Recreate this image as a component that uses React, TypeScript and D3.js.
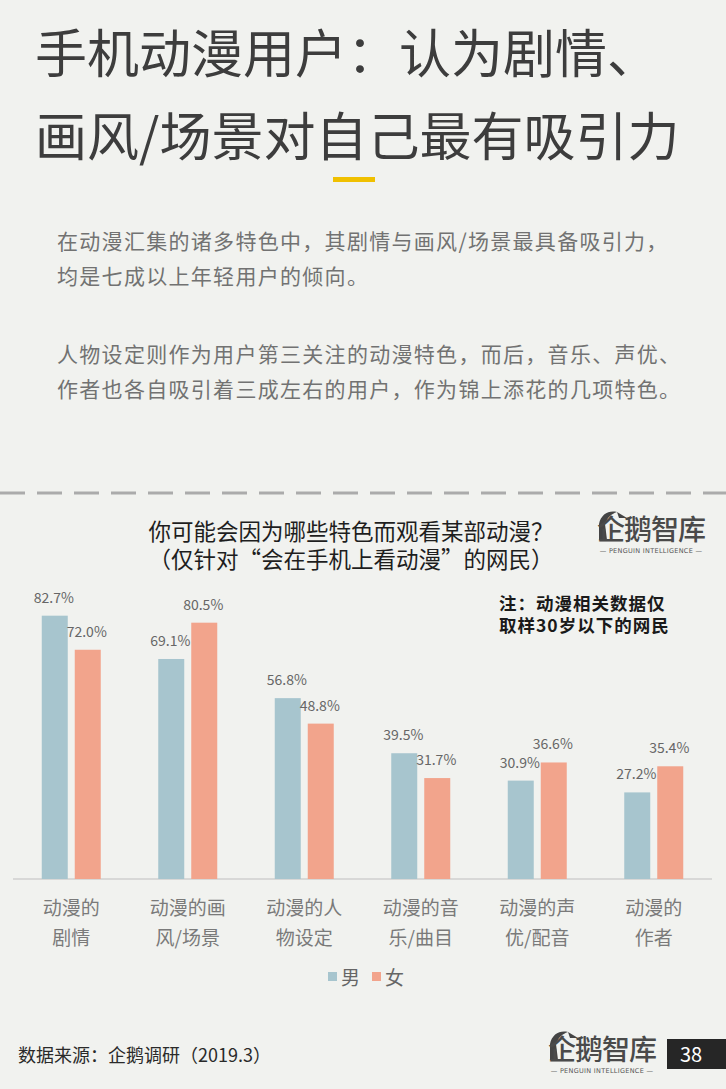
import React from "react";
import * as d3 from "d3";

const categories = ["动漫的剧情", "动漫的画风/场景", "动漫的人物设定", "动漫的音乐/曲目", "动漫的声优/配音", "动漫的作者"];
const categoryLine1 = ["动漫的", "动漫的画", "动漫的人", "动漫的音", "动漫的声", "动漫的"];
const categoryLine2 = ["剧情", "风/场景", "物设定", "乐/曲目", "优/配音", "作者"];
const seriesNames = ["男", "女"];
const maleValues = [82.7, 69.1, 56.8, 39.5, 30.9, 27.2];
const femaleValues = [72.0, 80.5, 48.8, 31.7, 36.6, 35.4];

const titleLines = ["手机动漫用户：认为剧情、", "画风/场景对自己最有吸引力"];
const paragraphLines = [
  "在动漫汇集的诸多特色中，其剧情与画风/场景最具备吸引力，",
  "均是七成以上年轻用户的倾向。",
  "人物设定则作为用户第三关注的动漫特色，而后，音乐、声优、",
  "作者也各自吸引着三成左右的用户，作为锦上添花的几项特色。",
];
const chartTitleLines = ["你可能会因为哪些特色而观看某部动漫？", "（仅针对“会在手机上看动漫”的网民）"];
const noteLines = ["注：动漫相关数据仅", "取样30岁以下的网民"];
const sourceText = "数据来源：企鹅调研（2019.3）";
const pageNumber = "38";

const W = 726;
const H = 1089;
const FONT = "'Noto Sans CJK SC', 'Noto Sans', sans-serif";
const BG = "#f1f2ef";
const MALE = "#a7c5ce";
const FEMALE = "#f2a48c";

function Logo({ x, y, scale = 1 }: { x: number; y: number; scale?: number }) {
  return (
    <g transform={`translate(${x},${y}) scale(${scale})`}>
      <path d="M2,30 L2,14 C4,4 12,0 20,2 C14,4 10,8 8,14 L10,30 Z" fill="#444" />
      <path d="M20,2 L30,8 L22,8 Z" fill="#444" />
      <text x={0} y={30} fontFamily={FONT} fontSize={28} fontWeight={500} fill="#4a4a4a" letterSpacing={-1}>
        企鹅智库
      </text>
      <text x={54} y={43} fontFamily="'DejaVu Sans', sans-serif" fontSize={6.5} fill="#555" textAnchor="middle" letterSpacing={0.3}>
        — PENGUIN INTELLIGENCE —
      </text>
    </g>
  );
}

export default function App() {
  const x0 = d3.scaleBand<string>().domain(categories).range([13, 712]).padding(0);
  const x1 = d3.scaleBand<string>().domain(seriesNames).range([0, 59]).paddingInner(2 - 59 / 33).paddingOuter(0);
  const y = d3.scaleLinear().domain([0, 100]).range([879, 560.6]);
  const data = categories.map((c, i) => ({ c, vals: [maleValues[i], femaleValues[i]] }));
  const colors = [MALE, FEMALE];

  return (
    <svg
      width={W}
      height={H}
      viewBox={`0 0 ${W} ${H}`}
      style={{ position: "absolute", left: 0, top: 0, display: "block" }}
    >
      <rect x={0} y={0} width={W} height={H} fill={BG} />

      {titleLines.map((t, i) => (
        <text key={i} x={35} y={73 + i * 83} fontFamily={FONT} fontSize={52} fill="#3d3d3d">
          {t}
        </text>
      ))}
      <rect x={333} y={177} width={42} height={5} fill="#f0c000" />

      {paragraphLines.map((t, i) => (
        <text
          key={i}
          x={57}
          y={[249, 284, 362, 397][i]}
          fontFamily={FONT}
          fontSize={21}
          letterSpacing={1.3}
          fill="#727272"
        >
          {t}
        </text>
      ))}

      <line x1={0} x2={W} y1={493} y2={493} stroke="#ababab" strokeWidth={3} strokeDasharray="25 12" />

      {chartTitleLines.map((t, i) => (
        <text key={i} x={351} y={540 + i * 28} fontFamily={FONT} fontSize={22.5} fill="#1e1e1e" textAnchor="middle">
          {t}
        </text>
      ))}
      <Logo x={597} y={510} />

      {noteLines.map((t, i) => (
        <text key={i} x={499} y={610 + i * 22} fontFamily={FONT} fontSize={17.5} fontWeight={600} letterSpacing={1} fill="#1a1a1a">
          {t}
        </text>
      ))}

      <line x1={13} x2={712} y1={y(0)} y2={y(0)} stroke="#cfcfcf" strokeWidth={1.5} />

      {data.map((d) => (
        <g key={d.c} transform={`translate(${x0(d.c)! + x0.bandwidth() / 2 - 29.5},0)`}>
          {d.vals.map((v, j) => (
            <g key={j}>
              <rect
                x={x1(seriesNames[j])!}
                y={y(v)}
                width={x1.bandwidth()}
                height={y(0) - y(v)}
                fill={colors[j]}
              />
              <text
                x={x1(seriesNames[j])! + x1.bandwidth() / 2 - 1}
                y={y(v) - 13}
                fontFamily={FONT}
                fontSize={14}
                fill="#666"
                textAnchor="middle"
              >
                {v.toFixed(1)}%
              </text>
            </g>
          ))}
        </g>
      ))}

      {categories.map((c, i) => {
        const cx = x0(c)! + x0.bandwidth() / 2;
        return (
          <g key={c}>
            <text x={cx} y={915} fontFamily={FONT} fontSize={19} fill="#7a7a7a" textAnchor="middle">
              {categoryLine1[i]}
            </text>
            <text x={cx} y={945} fontFamily={FONT} fontSize={19} fill="#7a7a7a" textAnchor="middle">
              {categoryLine2[i]}
            </text>
          </g>
        );
      })}

      {seriesNames.map((s, i) => (
        <g key={s} transform={`translate(${328 + i * 44},0)`}>
          <rect x={0} y={972} width={9} height={9} fill={colors[i]} />
          <text x={13} y={985} fontFamily={FONT} fontSize={19} fill="#666">
            {s}
          </text>
        </g>
      ))}

      <text x={18} y={1062} fontFamily={FONT} fontSize={18} fill="#2a2a2a">
        {sourceText}
      </text>
      <Logo x={548} y={1030} />
      <rect x={667} y={1039} width={59} height={30} fill="#262626" />
      <text x={691} y={1062} fontFamily={FONT} fontSize={20} fill="#fff" textAnchor="middle">
        {pageNumber}
      </text>
    </svg>
  );
}
